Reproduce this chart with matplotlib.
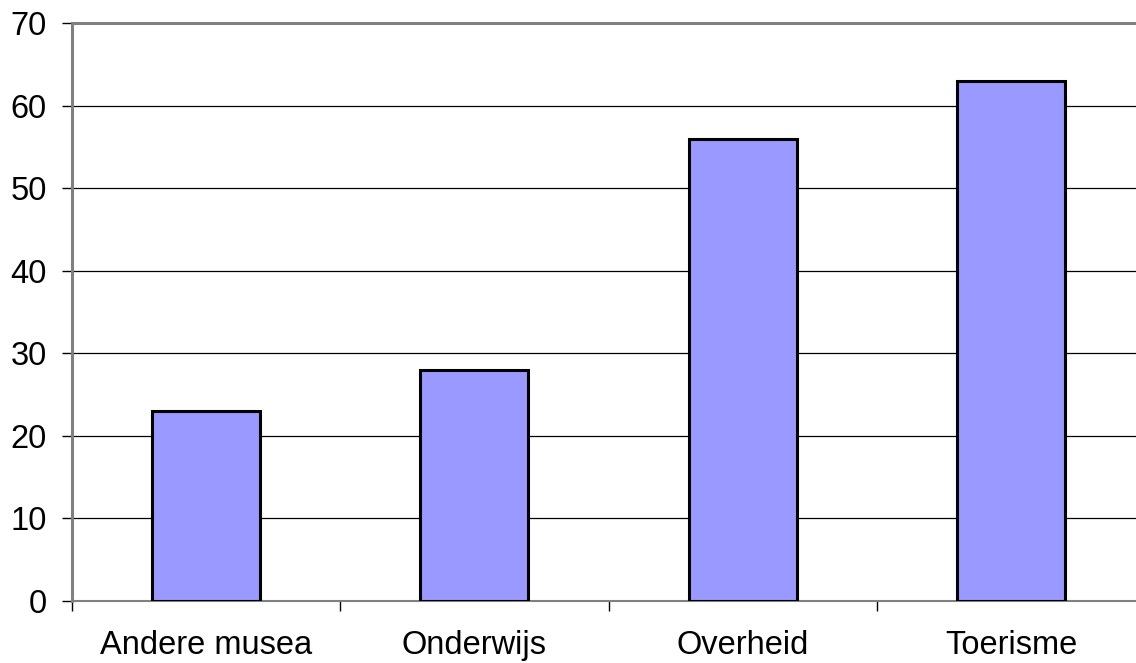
import matplotlib
matplotlib.use("Agg")
import matplotlib.pyplot as plt
from matplotlib.ticker import FixedLocator

categories = ["Andere musea", "Onderwijs", "Overheid", "Toerisme"]
values = [23, 28, 56, 63]
yticks = [0, 10, 20, 30, 40, 50, 60, 70]

plt.rcParams['font.family'] = ['Liberation Sans', 'DejaVu Sans']

fig = plt.figure(figsize=(11.36, 6.63), dpi=100)
ax = fig.add_axes([72/1136, 62/663, (1145-72)/1136, (601-23)/663])

x = list(range(len(categories)))
ax.bar(x, values, width=0.403, color="#9999FF", edgecolor="black", linewidth=2.2, zorder=3)

ax.set_xlim(-0.5, len(categories) - 0.5)
ax.set_ylim(0, 70)
ax.set_yticks(yticks)
ax.set_yticklabels([str(v) for v in yticks], fontsize=23.5)
ax.set_xticks(x)
ax.set_xticklabels(categories, fontsize=23.5)
ax.xaxis.set_minor_locator(FixedLocator([i - 0.5 for i in range(len(categories) + 1)]))
ax.tick_params(axis='x', which='major', length=0, pad=21)
ax.tick_params(axis='x', which='minor', length=7, width=1, color='black', direction='out')
ax.tick_params(axis='y', length=7, width=1, color='black', direction='out', pad=11)

for v in yticks[1:-1]:
    ax.axhline(v, color='black', linewidth=0.9, zorder=1)

for side in ['left', 'bottom', 'top']:
    ax.spines[side].set_color('#808080')
ax.spines['left'].set_linewidth(2.2)
ax.spines['top'].set_linewidth(2.2)
ax.spines['bottom'].set_linewidth(1.5)
ax.spines['right'].set_visible(False)

fig.savefig("out.png", dpi=100)
